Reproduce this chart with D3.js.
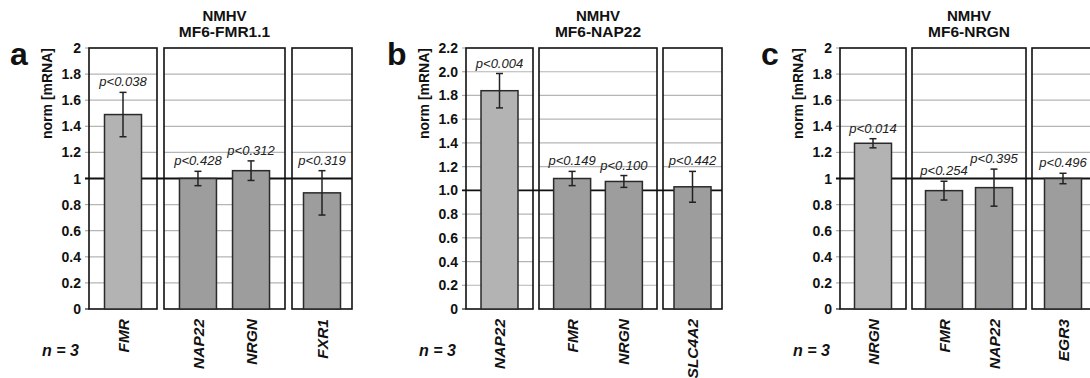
<!DOCTYPE html>
<html><head><meta charset="utf-8">
<script src="https://cdn.jsdelivr.net/npm/d3@7"></script>
<style>
html,body{margin:0;padding:0;background:#fff;}
svg{display:block;font-family:"Liberation Sans",Arial,sans-serif;}
</style></head>
<body><svg id="chart" width="1090" height="378"></svg>
<script>
// ---------- data ----------
const panelLetters = ["a", "b", "c"];
const titleTop = ["NMHV", "NMHV", "NMHV"];
const titleBottom = ["MF6-FMR1.1", "MF6-NAP22", "MF6-NRGN"];
const nLabel = "n = 3";
const yLabel = "norm [mRNA]";

const groupsA = [["FMR"], ["NAP22", "NRGN"], ["FXR1"]];
const valuesA = [1.49, 1.00, 1.06, 0.89];
const errorsA = [0.17, 0.055, 0.075, 0.17];
const pA = ["p<0.038", "p<0.428", "p<0.312", "p<0.319"];
const ticksA = [0, 0.2, 0.4, 0.6, 0.8, 1, 1.2, 1.4, 1.6, 1.8, 2];
const tickLabelsA = ["0", "0.2", "0.4", "0.6", "0.8", "1", "1.2", "1.4", "1.6", "1.8", "2"];

const groupsB = [["NAP22"], ["FMR", "NRGN"], ["SLC4A2"]];
const valuesB = [1.84, 1.10, 1.075, 1.03];
const errorsB = [0.145, 0.06, 0.05, 0.13];
const pB = ["p<0.004", "p<0.149", "p<0.100", "p<0.442"];
const ticksB = [0, 0.2, 0.4, 0.6, 0.8, 1.0, 1.2, 1.4, 1.6, 1.8, 2.0, 2.2];
const tickLabelsB = ["0", "0.2", "0.4", "0.6", "0.8", "1.0", "1.2", "1.4", "1.6", "1.8", "2.0", "2.2"];

const groupsC = [["NRGN"], ["FMR", "NAP22"], ["EGR3"]];
const valuesC = [1.27, 0.907, 0.93, 1.00];
const errorsC = [0.035, 0.072, 0.142, 0.04];
const pC = ["p<0.014", "p<0.254", "p<0.395", "p<0.496"];
const ticksC = [0, 0.2, 0.4, 0.6, 0.8, 1, 1.2, 1.4, 1.6, 1.8, 2];
const tickLabelsC = ["0", "0.2", "0.4", "0.6", "0.8", "1", "1.2", "1.4", "1.6", "1.8", "2"];

const refValue = 1;

// ---------- layout ----------
const layout = [
  { x0: 89,  widths: [68, 121, 60], gap: 7 },
  { x0: 466, widths: [67, 118, 59], gap: 6 },
  { x0: 840, widths: [66, 114, 62], gap: 6 }
];
const yTop = 48, yBottom = 309;
const barW = 37;

const panels = [
  { groups: groupsA, values: valuesA, errors: errorsA, p: pA, ticks: ticksA, tickLabels: tickLabelsA },
  { groups: groupsB, values: valuesB, errors: errorsB, p: pB, ticks: ticksB, tickLabels: tickLabelsB },
  { groups: groupsC, values: valuesC, errors: errorsC, p: pC, ticks: ticksC, tickLabels: tickLabelsC }
];

const svg = d3.select("#chart");

panels.forEach((P, pi) => {
  const L = layout[pi];
  const g = svg.append("g");
  const yMax = d3.max(P.ticks);
  const y = d3.scaleLinear().domain([0, yMax]).range([yBottom, yTop]);

  const subs = [];
  let cx = L.x0;
  L.widths.forEach((w) => { subs.push([cx, cx + w]); cx += w + L.gap; });
  const xEnd = subs[subs.length - 1][1];

  P.ticks.forEach((t, i) => {
    g.append("text")
      .attr("x", L.x0 - 8).attr("y", y(t))
      .attr("dy", "0.36em")
      .attr("text-anchor", "end")
      .attr("font-size", 14).attr("font-weight", "bold")
      .attr("fill", "#111")
      .text(P.tickLabels[i]);
    g.append("line")
      .attr("x1", L.x0 - 4).attr("x2", L.x0)
      .attr("y1", y(t)).attr("y2", y(t))
      .attr("stroke", t === 0 ? "#222" : "#aaa").attr("stroke-width", 1.2);
  });

  subs.forEach(([a, b]) => {
    P.ticks.filter(t => t > 0 && t < yMax && t !== refValue).forEach(t => {
      g.append("line")
        .attr("x1", a).attr("x2", b)
        .attr("y1", y(t)).attr("y2", y(t))
        .attr("stroke", "#b5b5b5").attr("stroke-width", 1.2);
    });
  });

  g.append("line")
    .attr("x1", L.x0 - 4).attr("x2", xEnd)
    .attr("y1", y(refValue)).attr("y2", y(refValue))
    .attr("stroke", "#111").attr("stroke-width", 1.8);

  subs.forEach(([a, b]) => {
    g.append("rect")
      .attr("x", a).attr("y", yTop)
      .attr("width", b - a).attr("height", yBottom - yTop)
      .attr("fill", "none").attr("stroke", "#111").attr("stroke-width", 1.6);
  });

  let k = 0;
  P.groups.forEach((cats, gi) => {
    const [a, b] = subs[gi];
    const x = d3.scaleBand().domain(cats).range([a, b]).paddingInner(0.28).paddingOuter(0.28);
    cats.forEach(cat => {
      const v = P.values[k], e = P.errors[k], pl = P.p[k];
      const c = cats.length === 1 ? (a + b) / 2 : x(cat) + x.bandwidth() / 2;
      g.append("rect")
        .attr("x", c - barW / 2).attr("y", y(v))
        .attr("width", barW).attr("height", y(0) - y(v))
        .attr("fill", gi === 0 ? "#b3b3b3" : "#9d9d9d")
        .attr("stroke", "#2a2a2a").attr("stroke-width", 1.5);
      g.append("line").attr("x1", c).attr("x2", c)
        .attr("y1", y(v + e)).attr("y2", y(v - e))
        .attr("stroke", "#222").attr("stroke-width", 1.5);
      [v + e, v - e].forEach(ev => {
        g.append("line").attr("x1", c - 3.5).attr("x2", c + 3.5)
          .attr("y1", y(ev)).attr("y2", y(ev))
          .attr("stroke", "#222").attr("stroke-width", 1.5);
      });
      g.append("text")
        .attr("x", c).attr("y", y(v + e) - 6)
        .attr("text-anchor", "middle")
        .attr("font-size", 13).attr("font-style", "italic")
        .attr("fill", "#222")
        .text(pl);
      g.append("text")
        .attr("transform", `translate(${c},${yBottom + 10}) rotate(-90)`)
        .attr("dy", "0.36em")
        .attr("text-anchor", "end")
        .attr("font-size", 15.5).attr("font-weight", "bold").attr("font-style", "italic")
        .attr("fill", "#111")
        .text(cat);
      k++;
    });
  });

  const tc = (subs[1][0] + subs[1][1]) / 2;
  g.append("text").attr("x", tc).attr("y", 21).attr("text-anchor", "middle")
    .attr("font-size", 15).attr("font-weight", "bold").attr("fill", "#111").text(titleTop[pi]);
  g.append("text").attr("x", tc).attr("y", 37).attr("text-anchor", "middle")
    .attr("font-size", 15.5).attr("font-weight", "bold").attr("fill", "#111").text(titleBottom[pi]);

  g.append("text").attr("x", L.x0 - 79).attr("y", 65)
    .attr("font-size", 32).attr("font-weight", "bold").attr("fill", "#111").text(panelLetters[pi]);

  g.append("text")
    .attr("transform", `translate(${L.x0 - 42},${yTop}) rotate(-90)`)
    .attr("dy", "0.36em").attr("text-anchor", "end")
    .attr("font-size", 14).attr("font-weight", "bold").attr("fill", "#111")
    .text(yLabel);

  g.append("text").attr("x", L.x0 - 47).attr("y", 356)
    .attr("font-size", 16).attr("font-weight", "bold").attr("font-style", "italic")
    .attr("fill", "#111").text(nLabel);
});
</script>
</body></html>
